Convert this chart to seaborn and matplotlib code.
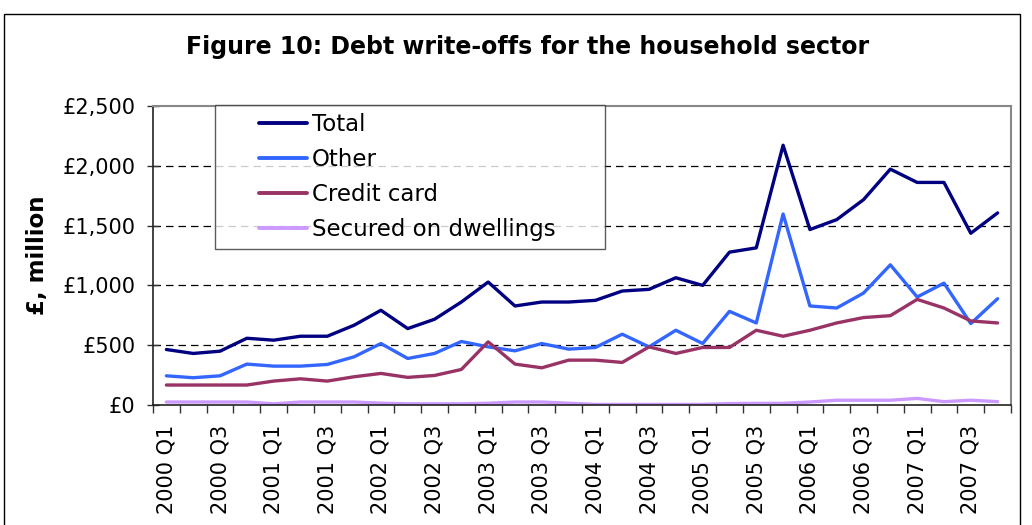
import matplotlib
matplotlib.use("Agg")
import matplotlib.pyplot as plt
import seaborn as sns
import pandas as pd
import numpy as np
from matplotlib.patches import Rectangle
from matplotlib.lines import Line2D
from matplotlib.legend_handler import HandlerLine2D

quarters = [f"{y} Q{q}" for y in range(2000, 2008) for q in range(1, 5)]

total = [464, 431, 450, 558, 542, 575, 575, 667, 792, 639, 717, 861, 1028, 828, 861, 861,
         875, 953, 967, 1064, 1000, 1278, 1314, 2172, 1467, 1550, 1717, 1972, 1861, 1861, 1436, 1606]
other = [244, 228, 244, 342, 325, 325, 339, 403, 514, 389, 431, 531, 486, 453, 514, 467,
         481, 592, 486, 625, 514, 783, 686, 1597, 828, 811, 936, 1172, 903, 1019, 681, 889]
credit = [167, 167, 167, 167, 200, 219, 200, 236, 264, 231, 247, 297, 528, 342, 311, 375,
          375, 356, 486, 431, 481, 481, 625, 575, 625, 686, 731, 747, 883, 811, 703, 686]
secured = [25, 25, 25, 25, 10, 25, 25, 25, 15, 10, 10, 10, 15, 25, 25, 15,
           5, 5, 5, 5, 5, 12, 14, 14, 25, 40, 40, 40, 55, 28, 40, 28]

series_names = ["Total", "Other", "Credit card", "Secured on dwellings"]
series_values = [total, other, credit, secured]
colors = ["#000080", "#3366FF", "#993366", "#CC99FF"]

rows = []
for name, vals in zip(series_names, series_values):
    for i, v in enumerate(vals):
        rows.append({"idx": i, "value": v, "series": name})
df = pd.DataFrame(rows)

sns.set_style("white")
plt.rcParams["font.family"] = ["DejaVu Sans"]
plt.rcParams["text.color"] = "black"
plt.rcParams["axes.labelcolor"] = "black"
plt.rcParams["xtick.color"] = "black"
plt.rcParams["ytick.color"] = "black"

fig = plt.figure(figsize=(10.32, 5.25), dpi=100)
ax = fig.add_axes([153/1032, 1-405/525, (1011-153)/1032, (405-106)/525])

sns.lineplot(data=df, x="idx", y="value", hue="series", hue_order=series_names,
             palette=colors, linewidth=2.4, ax=ax, legend=True)

ax.set_xlim(-0.5, len(quarters) - 0.5)
ax.set_ylim(0, 2500)
ax.set_yticks([0, 500, 1000, 1500, 2000, 2500])
ax.set_yticklabels(["£0", "£500", "£1,000", "£1,500", "£2,000", "£2,500"], fontsize=15)
ax.tick_params(axis="y", direction="inout", length=9, width=1, color="#333333",
               labelcolor="black", pad=8, left=True)

# boundary ticks (unlabeled) and centered labels every other quarter
ax.set_xticks(np.arange(-0.5, len(quarters)), labels=[""] * (len(quarters) + 1))
ax.tick_params(axis="x", which="major", direction="out", length=6, width=1, color="#333333", bottom=True)
ax.set_xticks(np.arange(0, len(quarters), 2), minor=True)
ax.set_xticklabels(quarters[::2], minor=True, rotation=90, fontsize=15)
ax.tick_params(axis="x", which="minor", length=0, pad=14, labelcolor="black")

for yv in [500, 1000, 1500, 2000]:
    ax.axhline(yv, color="black", linestyle=(0, (6, 4)), linewidth=0.9, zorder=0)

ax.set_xlabel("")
ax.set_ylabel("£, million", fontsize=16.5, fontweight="bold", labelpad=10, color="black")

for s in ["left", "bottom"]:
    ax.spines[s].set_color("#222222")
    ax.spines[s].set_linewidth(1.2)
for s in ["top", "right"]:
    ax.spines[s].set_color("#888888")
    ax.spines[s].set_linewidth(1.5)

handles, labels = ax.get_legend_handles_labels()
top = 1 + 1/299
leg = ax.legend(handles, labels, loc="upper left",
                bbox_to_anchor=((215-153)/858, top - 0.6, (605-215)/858, 0.6),
                mode="expand", fontsize=16.5,
                frameon=True, fancybox=False, shadow=False, borderpad=0.35,
                handlelength=3.67, handletextpad=0.22, labelspacing=0.52, borderaxespad=0,
                handler_map={Line2D: HandlerLine2D(xpad=1.57)})
leg.get_frame().set_edgecolor("#333333")
leg.get_frame().set_linewidth(1.0)
for line in leg.get_lines():
    line.set_linewidth(2.8)
for t in leg.get_texts():
    t.set_color("black")

fig.text(528/1032, 1-47/525, "Figure 10: Debt write-offs for the household sector",
         ha="center", va="center", fontsize=17, fontweight="bold", color="black")

fig.patches.append(Rectangle((4/1032, -0.1), (1020-4)/1032, (1-14/525) + 0.1,
                             transform=fig.transFigure, fill=False,
                             edgecolor="black", linewidth=1.0))

fig.savefig("out.png", dpi=100)
